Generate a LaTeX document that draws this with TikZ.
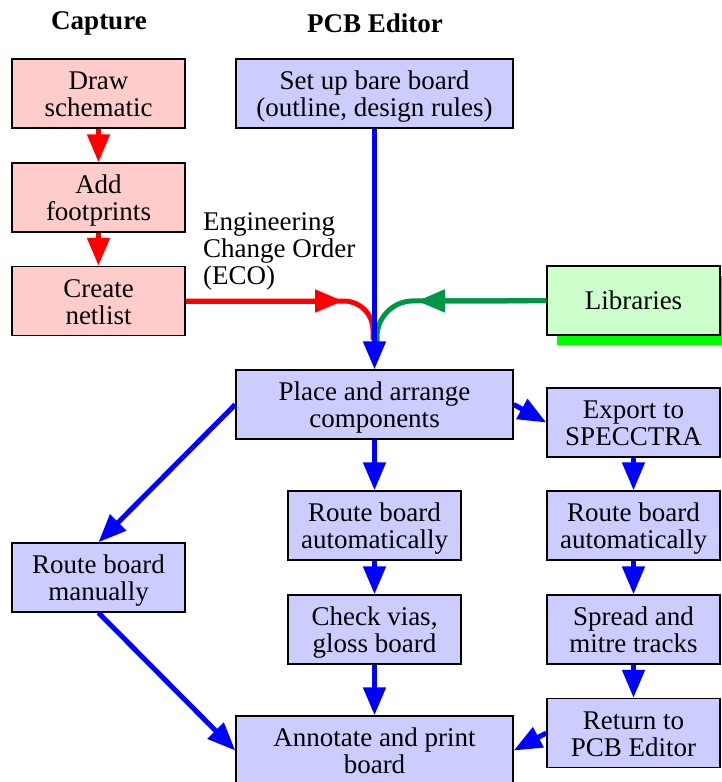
\documentclass[tikz,border=0pt]{standalone}
\usepackage{fontspec}
\setmainfont{Liberation Serif}
\usepackage{tikz}
\usepackage{xcolor}
\usetikzlibrary{arrows.meta,shadows}

\definecolor{capfill}{RGB}{255,204,204}
\definecolor{pcbfill}{RGB}{204,204,255}
\definecolor{libfill}{RGB}{204,255,204}
\definecolor{libline}{RGB}{0,150,70}

\begin{document}
\begin{tikzpicture}[x=1pt, y=-1pt,
		every node/.style={font=\fontsize{27}{27}\selectfont},
		title/.style={font=\fontsize{27}{27}\selectfont\bfseries},
		box/.style={draw=black, line width=1.5pt, align=center, minimum width=173pt, minimum height=69pt, inner sep=0pt},
		twoline/.style={box, execute at begin node={\rule[-8pt]{0pt}{62pt}}},
		capbox/.style={twoline, fill=capfill},
		pcbbox/.style={twoline, fill=pcbfill},
		widebox/.style={pcbbox, minimum width=277pt},
		flow/.style={line width=5pt, -{Triangle[length=28pt, width=22pt]}},
		track/.style={line width=5pt}]
			\useasboundingbox (0,0) rectangle (721,782);
			% column titles
			\node[title] (captitle) at (99,23) {Capture};
			\node[title] (pcbtitle) at (375,23) {PCB Editor};
			% capture side
			\node[capbox] (draw) at (98.5,93.5) {Draw\\schematic};
			\node[capbox] (foot) at (98.5,197.5) {Add\\footprints};
			\node[capbox] (netlist) at (98.5,301) {Create\\netlist};
			\node[anchor=north west, align=left, inner sep=0pt] (eco) at (203,212) {Engineering\\Change Order\\(ECO)};
			% pcb editor side
			\node[widebox] (bare) at (374.5,93.5) {Set up bare board\\(outline, design rules)};
			\node[box, fill=libfill, drop shadow={fill=green, opacity=1, shadow xshift=10pt, shadow yshift=-10pt}] (lib) at (633.5,300.5) {Libraries};
			\node[widebox] (place) at (374.5,404.5) {Place and arrange\\components};
			\node[pcbbox] (manual) at (98.5,577.5) {Route board\\manually};
			\node[pcbbox] (auto1) at (374.5,525.5) {Route board\\automatically};
			\node[pcbbox] (check) at (374.5,629.5) {Check vias,\\gloss board};
			\node[widebox] (annot) at (374.5,750.5) {Annotate and print\\board};
			\node[pcbbox] (export) at (633.5,422.5) {Export to\\SPECCTRA};
			\node[pcbbox] (auto2) at (633.5,525.5) {Route board\\automatically};
			\node[pcbbox] (spread) at (633.5,629.5) {Spread and\\mitre tracks};
			\node[pcbbox] (return) at (633.5,733) {Return to\\PCB Editor};

			\foreach \a/\b in {draw/foot, foot/netlist} {
				\draw[flow, red] (\a) -- (\b);
			};
			% ECO and libraries join the board flow
			\coordinate (ecotip) at (343,301);
			\coordinate (libtip) at (417,301);
			\draw[track, red, rounded corners=29pt] (netlist) -- (373,301) -- (373,340);
			\draw[flow, red] (netlist) -- (ecotip);
			\draw[track, libline, rounded corners=36pt] (lib) -- (377,301) -- (377,345);
			\draw[flow, libline] (lib) -- (libtip);
			\foreach \a/\b in {bare/place, place/auto1, auto1/check, check/annot, export/auto2, auto2/spread, spread/return} {
				\draw[flow, blue] (\a) -- (\b);
			};
			\draw[flow, blue] (place.west) -- (manual.north);
			\draw[flow, blue] (manual.south) -- (annot.west);
			\draw[flow, blue] (place.east) -- (export.west);
			\draw[flow, blue] (return.west) -- (annot.east);
		\end{tikzpicture}
\end{document}
